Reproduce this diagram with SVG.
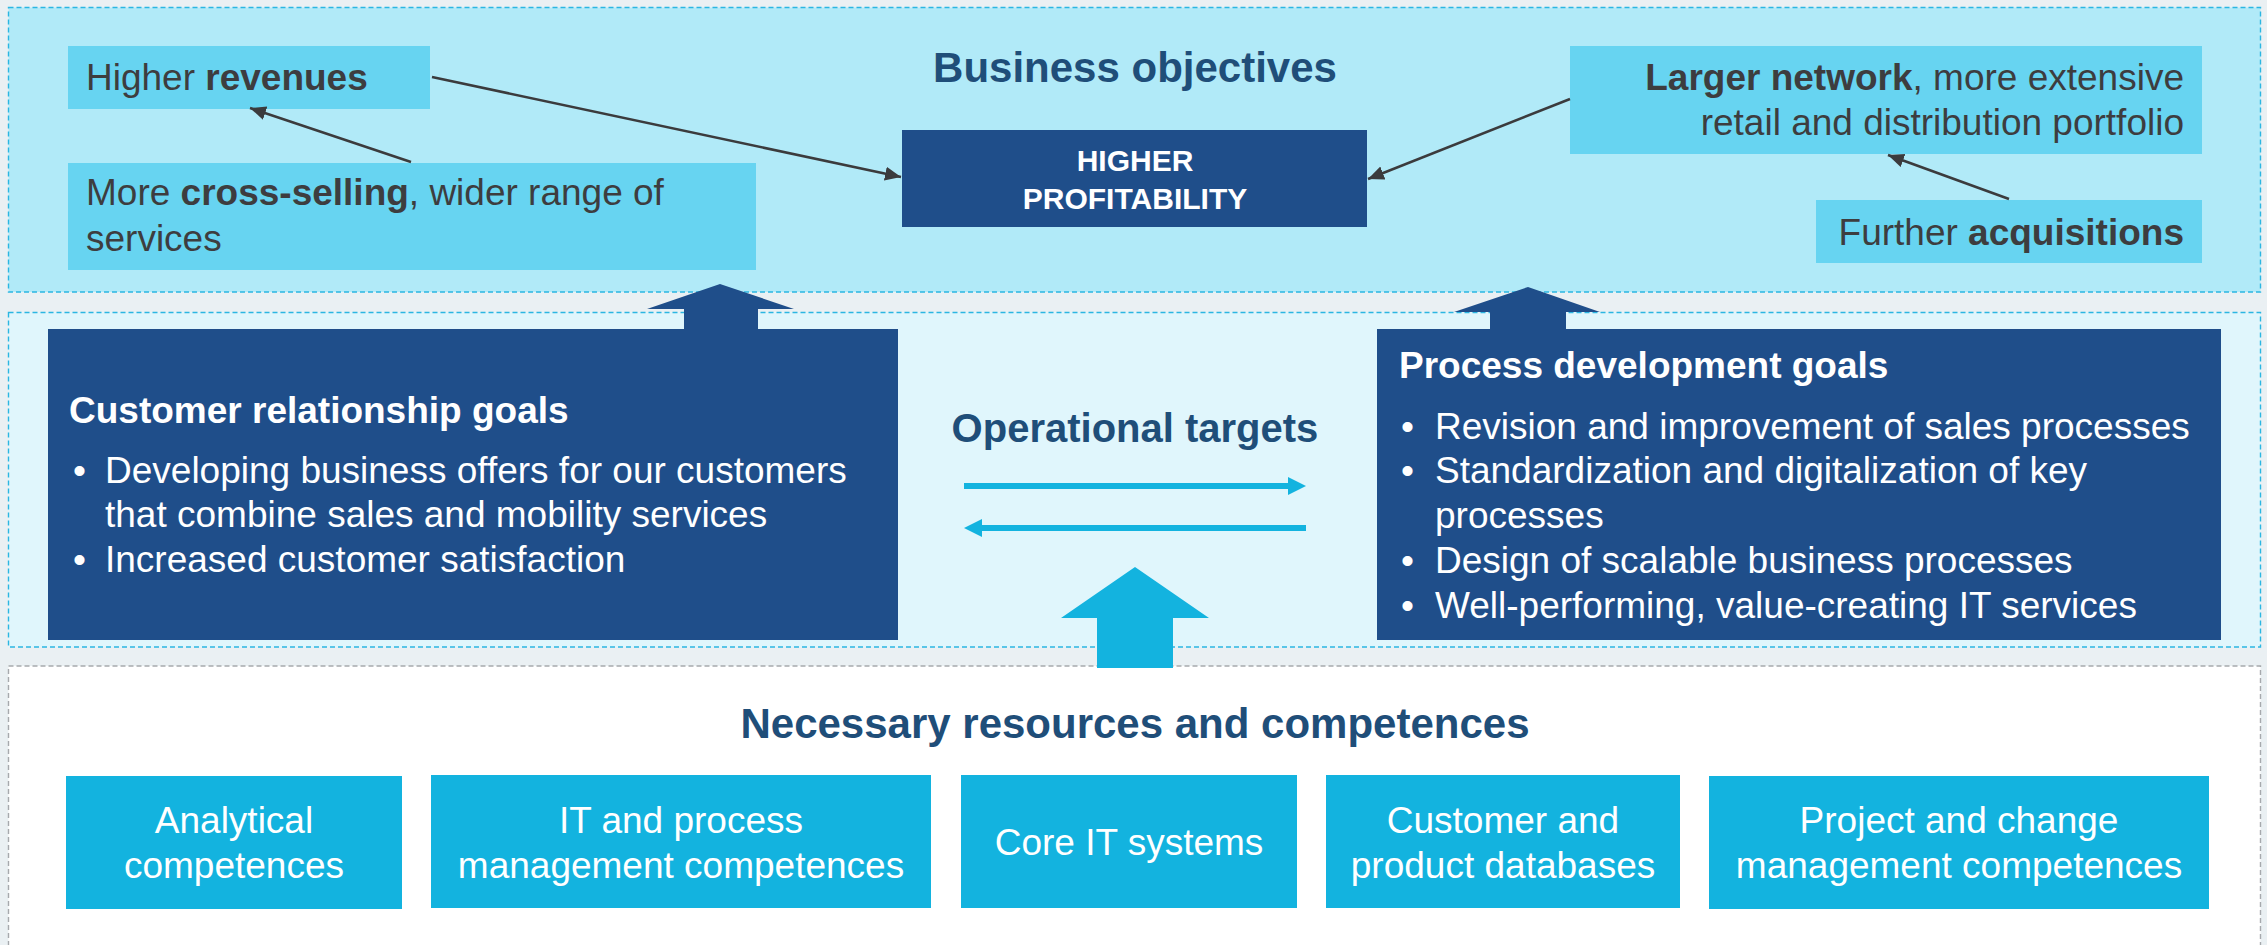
<svg xmlns="http://www.w3.org/2000/svg" width="2267" height="945" viewBox="0 0 2267 945">
  <defs>
    <style>
      .txt { font-family: "Liberation Sans", Arial, sans-serif; }
      .body { font-size: 37px; fill: #3d3d3f; }
      .white { font-size: 37px; fill: #ffffff; }
      .head { font-weight: bold; fill: #1f4e79; text-anchor: middle; }
      .light { fill: #67d4f1; }
      .dark { fill: #1f4e8a; }
      .cyan { fill: #13b3df; }
      .panel { stroke: #2bb6e2; stroke-width: 1.4; stroke-dasharray: 5 3; }
      .link { stroke: #3b3b3d; stroke-width: 2.5; fill: none; marker-end: url(#tip); }
      b, .b { font-weight: bold; }
    </style>
    <marker id="tip" markerUnits="userSpaceOnUse" markerWidth="18" markerHeight="16" refX="16" refY="7" orient="auto">
      <path d="M0,0 L16,7 L0,14 z" fill="#3b3b3d"/>
    </marker>
  </defs>

  <!-- page background -->
  <rect x="0" y="0" width="2267" height="945" fill="#eaf0f3"/>

  <!-- three bands -->
  <g id="band-business">
    <rect class="panel" x="8.5" y="7.5" width="2252" height="284.5" fill="#b1eaf8"/>
    <text class="txt head" x="1135" y="82" font-size="42">Business objectives</text>
  </g>
  <g id="band-operational">
    <rect class="panel" x="8.5" y="312.5" width="2252" height="334.5" fill="#e0f6fc"/>
    <text class="txt head" x="1135" y="442" font-size="40">Operational targets</text>
  </g>
  <g id="band-resources">
    <rect x="8.5" y="666" width="2252" height="300" fill="#ffffff" stroke="#a6a9ad" stroke-width="1.4" stroke-dasharray="5 3"/>
    <text class="txt head" x="1135" y="738" font-size="42">Necessary resources and competences</text>
  </g>

  <!-- business objective nodes -->
  <g id="higher-revenues">
    <rect class="light" x="68" y="46" width="362" height="63"/>
    <text class="txt body" x="86" y="90">Higher <tspan class="b">revenues</tspan></text>
  </g>
  <g id="cross-selling">
    <rect class="light" x="68" y="163" width="688" height="107"/>
    <text class="txt body" x="86" y="205">More <tspan class="b">cross-selling</tspan>, wider range of</text>
    <text class="txt body" x="86" y="251">services</text>
  </g>
  <g id="higher-profitability">
    <rect class="dark" x="902" y="130" width="465" height="97"/>
    <text class="txt" x="1135" y="171" font-size="30" font-weight="bold" fill="#ffffff" text-anchor="middle">HIGHER</text>
    <text class="txt" x="1135" y="209" font-size="30" font-weight="bold" fill="#ffffff" text-anchor="middle">PROFITABILITY</text>
  </g>
  <g id="larger-network">
    <rect class="light" x="1570" y="46" width="632" height="108"/>
    <text class="txt body" x="2184" y="90" text-anchor="end"><tspan class="b">Larger network</tspan>, more extensive</text>
    <text class="txt body" x="2184" y="135" text-anchor="end">retail and distribution portfolio</text>
  </g>
  <g id="further-acquisitions">
    <rect class="light" x="1816" y="200" width="386" height="63"/>
    <text class="txt body" x="2184" y="245" text-anchor="end">Further <tspan class="b">acquisitions</tspan></text>
  </g>

  <!-- operational goal nodes -->
  <g id="customer-goals">
    <rect class="dark" x="48" y="329" width="850" height="311"/>
    <polygon class="dark" points="720,284 794,309 758,309 758,330 684,330 684,309 647,309"/>
    <text class="txt white b" x="69" y="423">Customer relationship goals</text>
    <text class="txt white" x="73" y="483">•</text>
    <text class="txt white" x="105" y="483">Developing business offers for our customers</text>
    <text class="txt white" x="105" y="527">that combine sales and mobility services</text>
    <text class="txt white" x="73" y="572">•</text>
    <text class="txt white" x="105" y="572">Increased customer satisfaction</text>
  </g>
  <g id="process-goals">
    <rect class="dark" x="1377" y="329" width="844" height="311"/>
    <polygon class="dark" points="1528,287 1600,312 1566,312 1566,330 1490,330 1490,312 1454,312"/>
    <text class="txt white b" x="1399" y="378">Process development goals</text>
    <text class="txt white" x="1401" y="439">•</text>
    <text class="txt white" x="1435" y="439">Revision and improvement of sales processes</text>
    <text class="txt white" x="1401" y="483">•</text>
    <text class="txt white" x="1435" y="483">Standardization and digitalization of key</text>
    <text class="txt white" x="1435" y="528">processes</text>
    <text class="txt white" x="1401" y="573">•</text>
    <text class="txt white" x="1435" y="573">Design of scalable business processes</text>
    <text class="txt white" x="1401" y="618">•</text>
    <text class="txt white" x="1435" y="618">Well-performing, value-creating IT services</text>
  </g>

  <!-- resource nodes -->
  <g id="analytical">
    <rect class="cyan" x="66" y="776" width="336" height="133"/>
    <text class="txt white" x="234" y="833" text-anchor="middle">Analytical</text>
    <text class="txt white" x="234" y="878" text-anchor="middle">competences</text>
  </g>
  <g id="it-process">
    <rect class="cyan" x="431" y="775" width="500" height="133"/>
    <text class="txt white" x="681" y="833" text-anchor="middle">IT and process</text>
    <text class="txt white" x="681" y="878" text-anchor="middle">management competences</text>
  </g>
  <g id="core-it">
    <rect class="cyan" x="961" y="775" width="336" height="133"/>
    <text class="txt white" x="1129" y="855" text-anchor="middle">Core IT systems</text>
  </g>
  <g id="databases">
    <rect class="cyan" x="1326" y="775" width="354" height="133"/>
    <text class="txt white" x="1503" y="833" text-anchor="middle">Customer and</text>
    <text class="txt white" x="1503" y="878" text-anchor="middle">product databases</text>
  </g>
  <g id="project-change">
    <rect class="cyan" x="1709" y="776" width="500" height="133"/>
    <text class="txt white" x="1959" y="833" text-anchor="middle">Project and change</text>
    <text class="txt white" x="1959" y="878" text-anchor="middle">management competences</text>
  </g>

  <!-- connectors -->
  <g id="connectors">
    <line class="link" x1="411" y1="162" x2="250" y2="108"/>
    <line class="link" x1="432" y1="77" x2="901" y2="177"/>
    <line class="link" x1="1570" y1="99" x2="1368" y2="179"/>
    <line class="link" x1="2009" y1="199" x2="1888" y2="155"/>
    <!-- two-way exchange between the goal boxes -->
    <rect class="cyan" x="964" y="483" width="326" height="6"/>
    <polygon class="cyan" points="1288,477 1306,486 1288,495"/>
    <rect class="cyan" x="980" y="525" width="326" height="6"/>
    <polygon class="cyan" points="964,528 982,519 982,537"/>
    <!-- resources feeding the operational targets -->
    <polygon class="cyan" points="1135,567 1209,618 1173,618 1173,668 1097,668 1097,618 1061,618"/>
  </g>
</svg>
